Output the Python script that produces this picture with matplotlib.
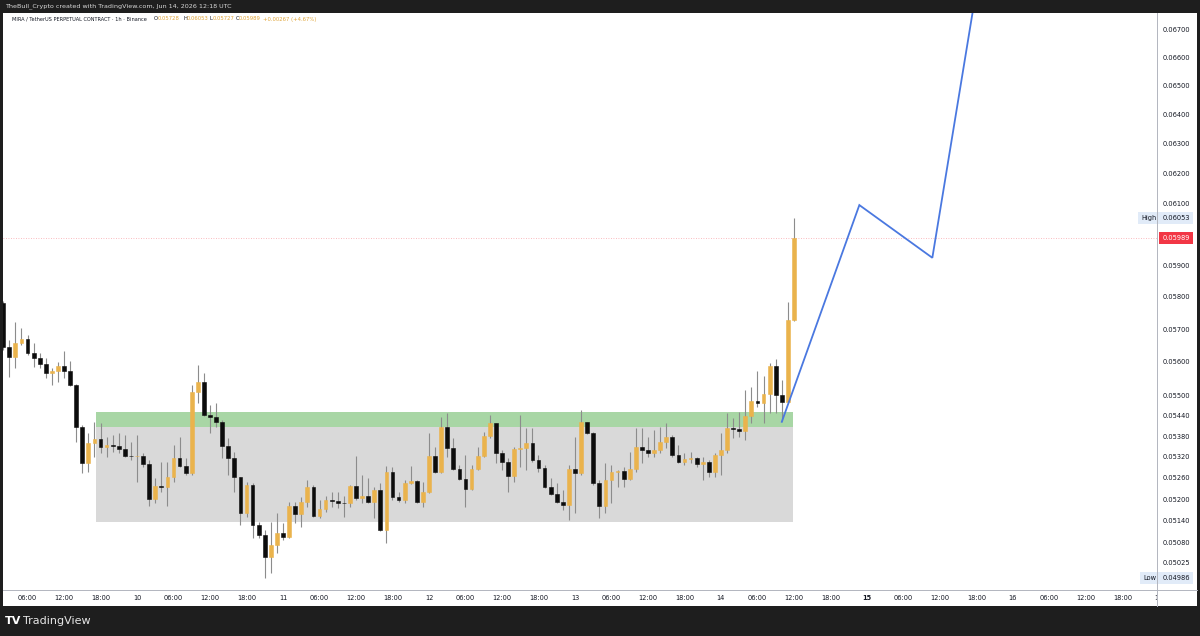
import matplotlib
matplotlib.use("Agg")
import matplotlib.pyplot as plt
import matplotlib.dates as mdates
import matplotlib.transforms as mtransforms
from matplotlib.lines import Line2D
from matplotlib.patches import Rectangle
import pandas as pd

# ---------------- data ----------------
symbol_title = "MIRA / TetherUS PERPETUAL CONTRACT · 1h · Binance"
header_text = "TheBull_Crypto created with TradingView.com, Jun 14, 2026 12:18 UTC"
ohlc_labels = ["O", "H", "L", "C"]
ohlc_values = ["0.05728", "0.06053", "0.05727", "0.05989"]
change_text = "+0.00267 (+4.67%)"

first_time = "2026-06-09 02:00"
first_open = 0.05782
closes = [
    0.05647, 0.05616, 0.05659, 0.05671, 0.05628, 0.05613, 0.05595, 0.05568, 0.05574, 0.05589,
    0.05574, 0.05532, 0.05408, 0.05304, 0.05361, 0.05373, 0.05350, 0.05356, 0.05353, 0.05344,
    0.05324, 0.05323, 0.05325, 0.05301, 0.05202, 0.05238, 0.05236, 0.05264, 0.05318, 0.05295,
    0.05275, 0.05511, 0.05541, 0.05443, 0.05437, 0.05422, 0.05353, 0.05318, 0.05264, 0.05163,
    0.05241, 0.05129, 0.05102, 0.05042, 0.05074, 0.05107, 0.05096, 0.05182, 0.05160, 0.05193,
    0.05236, 0.05154, 0.05174, 0.05199, 0.05196, 0.05191, 0.05190, 0.05238, 0.05205, 0.05210,
    0.05193, 0.05227, 0.05116, 0.05278, 0.05207, 0.05199, 0.05247, 0.05253, 0.05193, 0.05222,
    0.05324, 0.05278, 0.05408, 0.05347, 0.05287, 0.05258, 0.05230, 0.05287, 0.05324, 0.05382,
    0.05420, 0.05333, 0.05307, 0.05267, 0.05344, 0.05347, 0.05361, 0.05312, 0.05290, 0.05236,
    0.05216, 0.05193, 0.05185, 0.05287, 0.05275, 0.05422, 0.05391, 0.05247, 0.05182, 0.05255,
    0.05278, 0.05281, 0.05258, 0.05287, 0.05350, 0.05341, 0.05333, 0.05341, 0.05364, 0.05379,
    0.05327, 0.05307, 0.05315, 0.05318, 0.05301, 0.05307, 0.05278, 0.05327, 0.05341, 0.05405,
    0.05402, 0.05396, 0.05440, 0.05484, 0.05478, 0.05505, 0.05589, 0.05502, 0.05481, 0.05728,
    0.05989,
]
highs = [
    0.05788, 0.05668, 0.05723, 0.05705, 0.05683, 0.05659, 0.05628, 0.05613, 0.05583, 0.05601,
    0.05634, 0.05604, 0.05535, 0.05414, 0.05391, 0.05422, 0.05420, 0.05379, 0.05385, 0.05391,
    0.05385, 0.05364, 0.05385, 0.05333, 0.05312, 0.05261, 0.05307, 0.05307, 0.05356, 0.05379,
    0.05318, 0.05532, 0.05592, 0.05568, 0.05473, 0.05478, 0.05428, 0.05376, 0.05335, 0.05264,
    0.05250, 0.05247, 0.05138, 0.05116, 0.05138, 0.05163, 0.05135, 0.05193, 0.05193, 0.05207,
    0.05255, 0.05241, 0.05199, 0.05210, 0.05222, 0.05222, 0.05210, 0.05241, 0.05324, 0.05270,
    0.05261, 0.05236, 0.05247, 0.05295, 0.05292, 0.05222, 0.05255, 0.05295, 0.05255, 0.05250,
    0.05391, 0.05350, 0.05437, 0.05449, 0.05376, 0.05298, 0.05327, 0.05298, 0.05350, 0.05393,
    0.05443, 0.05420, 0.05341, 0.05318, 0.05350, 0.05443, 0.05405, 0.05405, 0.05327, 0.05298,
    0.05261, 0.05247, 0.05227, 0.05298, 0.05379, 0.05458, 0.05422, 0.05393, 0.05255, 0.05304,
    0.05298, 0.05284, 0.05292, 0.05335, 0.05405, 0.05405, 0.05379, 0.05399, 0.05408, 0.05420,
    0.05385, 0.05356, 0.05333, 0.05335, 0.05321, 0.05321, 0.05312, 0.05333, 0.05391, 0.05449,
    0.05434, 0.05452, 0.05517, 0.05526, 0.05574, 0.05559, 0.05598, 0.05610, 0.05547, 0.05785,
    0.06053,
]
lows = [
    0.05637, 0.05556, 0.05583, 0.05653, 0.05622, 0.05586, 0.05583, 0.05553, 0.05532, 0.05541,
    0.05553, 0.05529, 0.05364, 0.05275, 0.05278, 0.05321, 0.05333, 0.05321, 0.05335, 0.05333,
    0.05321, 0.05312, 0.05250, 0.05292, 0.05182, 0.05191, 0.05222, 0.05182, 0.05250, 0.05292,
    0.05270, 0.05270, 0.05478, 0.05440, 0.05391, 0.05408, 0.05318, 0.05270, 0.05222, 0.05129,
    0.05151, 0.05093, 0.05093, 0.04986, 0.04998, 0.05052, 0.05088, 0.05093, 0.05135, 0.05124,
    0.05179, 0.05151, 0.05149, 0.05165, 0.05179, 0.05177, 0.05151, 0.05179, 0.05199, 0.05191,
    0.05191, 0.05149, 0.05113, 0.05080, 0.05199, 0.05193, 0.05191, 0.05244, 0.05191, 0.05179,
    0.05219, 0.05275, 0.05275, 0.05321, 0.05284, 0.05255, 0.05179, 0.05227, 0.05284, 0.05321,
    0.05376, 0.05304, 0.05284, 0.05222, 0.05250, 0.05292, 0.05284, 0.05307, 0.05278, 0.05233,
    0.05213, 0.05191, 0.05171, 0.05143, 0.05163, 0.05270, 0.05388, 0.05241, 0.05149, 0.05163,
    0.05191, 0.05236, 0.05236, 0.05255, 0.05278, 0.05304, 0.05321, 0.05321, 0.05333, 0.05347,
    0.05321, 0.05304, 0.05298, 0.05304, 0.05292, 0.05255, 0.05264, 0.05264, 0.05270, 0.05333,
    0.05376, 0.05379, 0.05370, 0.05420, 0.05467, 0.05420, 0.05449, 0.05449, 0.05425, 0.05478,
    0.05727,
]
opens = [first_open] + closes[:-1]

# zones (time range, price range)
zone_start, zone_end = "2026-06-09 17:15", "2026-06-14 11:50"
green_zone = (0.05409, 0.05453)
grey_zone = (0.05138, 0.05409)

# projected path
path_times = ["2026-06-14 10:00", "2026-06-14 22:45", "2026-06-15 10:45", "2026-06-15 18:00"]
path_prices = [0.05423, 0.06096, 0.05925, 0.0685]

# axis labels
price_ticks = [0.06700, 0.06600, 0.06500, 0.06400, 0.06300, 0.06200, 0.06100,
               0.05900, 0.05800, 0.05700, 0.05600, 0.05500, 0.05440, 0.05380, 0.05320,
               0.05260, 0.05200, 0.05140, 0.05080, 0.05025]
last_price = 0.05989
high_price = 0.06053
low_price = 0.04986
time_tick_start, time_tick_end = "2026-06-09 06:00", "2026-06-17 00:00"

# view window
view_start, view_end = "2026-06-09 01:58", "2026-06-16 23:41"
y_min, y_max = 0.049525, 0.067618

# ---------------- styling ----------------
W, H = 1200, 636
UP = "#eab34c"
DOWN = "#0c0c0c"
WICK = "#8c8c8c"
DARK = "#1e1e1e"
TXT = "#131722"


def fx(px):
    return px / W


def fy(py):
    return 1 - py / H


fig = plt.figure(figsize=(12, 6.36), dpi=100, facecolor=DARK)
# white panel
fig.add_artist(Rectangle((fx(3), fy(606)), fx(1194), 593 / H, transform=fig.transFigure,
                         facecolor="white", edgecolor="none", zorder=0))

ax = fig.add_axes([fx(3), fy(590), fx(1154), 577 / H])
ax.set_facecolor("none")
for s in ax.spines.values():
    s.set_visible(False)
ax.set_yscale("log")
ax.set_ylim(y_min, y_max)
x0, x1 = mdates.date2num(pd.Timestamp(view_start)), mdates.date2num(pd.Timestamp(view_end))
ax.set_xlim(x0, x1)
ax.set_xticks([])
ax.set_yticks([])
ax.yaxis.set_minor_locator(matplotlib.ticker.NullLocator())

times = pd.date_range(first_time, periods=len(closes), freq="h")
xs = mdates.date2num(times)
hour = 1 / 24.0

# zones
zx = mdates.date2num([pd.Timestamp(zone_start), pd.Timestamp(zone_end)])
ax.fill_between(zx, grey_zone[0], grey_zone[1], color="#d9d9d9", lw=0, zorder=1)
ax.fill_between(zx, green_zone[0], green_zone[1], color="#a8d6a5", lw=0, zorder=1)

# candles
for x, o, h, l, c in zip(xs, opens, highs, lows, closes):
    col = UP if c >= o else DOWN
    ax.vlines(x, l, h, color=WICK, lw=0.8, zorder=2)
    ax.bar(x, abs(c - o), bottom=min(o, c), width=0.62 * hour, color=col,
           edgecolor=col, linewidth=0.4, zorder=3)

# last price line
ax.axhline(last_price, color="#f23645", lw=0.6, ls=(0, (1, 2)), alpha=0.45, zorder=1)

# projected path
ax.plot(mdates.date2num(pd.to_datetime(path_times)), path_prices, color="#4a78e0", lw=1.3,
        zorder=4, solid_joinstyle="miter")

# ---------- time axis ----------
tax = fig.add_axes([fx(3), fy(605), fx(1154), 15 / H])
tax.set_facecolor("none")
tax.set_xlim(x0, x1)
tax.set_ylim(0, 1)
tax.axis("off")
for t in pd.date_range(time_tick_start, time_tick_end, freq="6h"):
    if t.hour == 0:
        lab = str(t.day)
        bold = t.weekday() == 0
    else:
        lab = t.strftime("%H:%M")
        bold = False
    tax.text(mdates.date2num(t), 0.5, lab, ha="center", va="center", fontsize=4.8,
             color=TXT, fontweight="bold" if bold else "normal", clip_on=True)

# ---------- price axis ----------
pax = fig.add_axes([fx(1157), fy(590), fx(40), 577 / H])
pax.set_facecolor("none")
pax.set_yscale("log")
pax.set_ylim(y_min, y_max)
pax.set_xlim(0, 1)
pax.axis("off")
btr = mtransforms.blended_transform_factory(pax.transAxes, pax.transData)
for p in price_ticks:
    pax.text(0.13, p, f"{p:.5f}", transform=btr, ha="left", va="center", fontsize=4.8,
             color=TXT, zorder=2, clip_on=False)

box_blue = dict(boxstyle="square,pad=0.45", fc="#e1ebf8", ec="none")
pax.text(0.13, high_price, f"{high_price:.5f}", transform=btr, ha="left", va="center",
         fontsize=4.8, color=TXT, zorder=5, bbox=box_blue)
pax.text(0.13, low_price, f"{low_price:.5f}", transform=btr, ha="left", va="center",
         fontsize=4.8, color=TXT, zorder=5, bbox=box_blue)
pax.text(0.13, last_price, f"{last_price:.5f}", transform=btr, ha="left", va="center",
         fontsize=4.8, color="white", zorder=6,
         bbox=dict(boxstyle="square,pad=0.45", fc="#f23645", ec="none"))
atr = mtransforms.blended_transform_factory(ax.transAxes, ax.transData)
ax.text(0.9995, high_price, "High", transform=atr, ha="right", va="center", fontsize=4.8,
        color=TXT, zorder=6, bbox=box_blue)
ax.text(0.9995, low_price, "Low", transform=atr, ha="right", va="center", fontsize=4.8,
        color=TXT, zorder=6, bbox=box_blue)

# separators
fig.add_artist(Line2D([fx(1157), fx(1157)], [fy(13), fy(606)], transform=fig.transFigure,
                      color="#b2b5be", lw=0.7))
fig.add_artist(Line2D([fx(3), fx(1197)], [fy(590), fy(590)], transform=fig.transFigure,
                      color="#b2b5be", lw=0.7))

# header
fig.text(fx(5), fy(6.5), header_text, fontsize=4.6, color="#d9d9d9", va="center", ha="left")
fig.text(fx(12), fy(19), symbol_title, fontsize=3.6, color=TXT, va="center", ha="left")
lab_x = [154, 183, 210, 236]
val_x = [157.5, 187, 213, 239]
for lx, vx, l, v in zip(lab_x, val_x, ohlc_labels, ohlc_values):
    fig.text(fx(lx), fy(19), l, fontsize=3.8, color=TXT, va="center", ha="left")
    fig.text(fx(vx), fy(19), v, fontsize=3.8, color="#e0a53a", va="center", ha="left")
fig.text(fx(263), fy(19), change_text, fontsize=3.8, color="#e0a53a", va="center", ha="left")

# footer
fig.text(fx(5), fy(621), "TV", fontsize=8, color="white", va="center", ha="left",
         fontweight="heavy")
fig.text(fx(23), fy(621), "TradingView", fontsize=8, color="#e6e6e6", va="center", ha="left")

fig.savefig("out.png", dpi=100, facecolor=DARK)
